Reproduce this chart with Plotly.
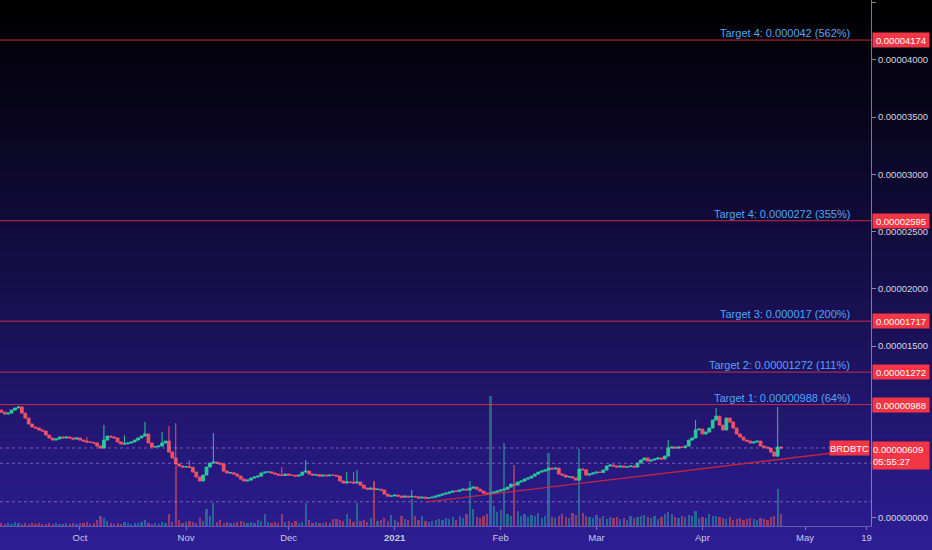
import numpy as np
import pandas as pd
import plotly.graph_objects as go

# ---------------- data (prices in satoshi units, 1e-8 BTC) ----------------
SAT = 1e-8
start_date = "2020-09-08"
first_open_sat = 940
close_sat = [
    922, 905, 914, 940, 958, 967, 914, 870, 818, 792,
    783, 766, 757, 722, 696, 678, 687, 705, 696, 705,
    696, 687, 696, 678, 669, 661, 658, 652, 626, 608,
    678, 713, 705, 696, 661, 643, 645, 652, 661, 678,
    696, 713, 731, 652, 617, 620, 626, 652, 669, 573,
    521, 468, 451, 442, 445, 440, 398, 355, 320, 372,
    442, 477, 486, 477, 468, 407, 390, 392, 381, 363,
    337, 320, 328, 346, 355, 363, 390, 398, 400, 390,
    381, 372, 368, 381, 372, 370, 363, 372, 398, 407,
    381, 372, 375, 363, 372, 365, 372, 370, 363, 320,
    302, 311, 309, 302, 311, 284, 258, 249, 258, 245,
    249, 241, 206, 188, 190, 197, 188, 179, 188, 180,
    186, 182, 171, 179, 171, 174, 179, 188, 197, 206,
    214, 223, 232, 230, 241, 249, 241, 258, 267, 249,
    232, 214, 206, 214, 223, 232, 241, 249, 267, 293,
    285, 311, 320, 337, 346, 363, 381, 398, 407, 416,
    433, 425, 433, 381, 372, 355, 358, 346, 328, 425,
    418, 372, 381, 390, 398, 395, 416, 451, 460, 451,
    442, 451, 442, 445, 451, 442, 477, 503, 521, 494,
    503, 512, 521, 512, 538, 608, 617, 608, 617, 614,
    626, 678, 696, 766, 774, 731, 748, 783, 853, 887,
    809, 766, 870, 836, 783, 731, 705, 678, 669, 652,
    661, 669, 626, 617, 608, 573, 538, 617, 609,
]
# visible wicks (day index -> price in sats)
wick_high_sat = {5: 975, 25: 705, 30: 809, 36: 720, 42: 836, 47: 748, 49: 800,
                 51: 827, 55: 503, 62: 739, 82: 442, 89: 503, 101: 398, 103: 398,
                 104: 416, 109: 311, 120: 241, 195: 678, 203: 853, 209: 958, 227: 967}
wick_low_sat = {227: 528}
volume = [
    3, 2, 3, 2, 4, 3, 2, 3, 2, 3,
    2, 3, 2, 2, 3, 2, 3, 2, 2, 3,
    2, 3, 2, 3, 3, 4, 2, 3, 6, 10,
    8, 5, 3, 2, 3, 2, 4, 3, 2, 3,
    3, 4, 6, 3, 2, 3, 2, 4, 3, 12,
    4, 60, 6, 3, 4, 5, 4, 3, 8, 5,
    17, 10, 23, 4, 6, 3, 4, 3, 3, 4,
    5, 4, 3, 4, 3, 6, 5, 12, 4, 3,
    4, 3, 12, 4, 5, 3, 5, 3, 4, 23,
    6, 3, 4, 3, 3, 4, 3, 7, 7, 6,
    5, 12, 7, 4, 23, 5, 6, 4, 8, 45,
    5, 6, 8, 5, 11, 6, 4, 10, 7, 6,
    27, 10, 6, 10, 5, 4, 5, 6, 7, 6,
    8, 7, 9, 6, 10, 8, 12, 45, 17, 9,
    8, 10, 12, 130, 20, 14, 16, 83, 12, 10,
    61, 15, 10, 12, 9, 11, 10, 13, 8, 10,
    73, 9, 8, 10, 12, 9, 8, 13, 11, 77,
    13, 10, 9, 8, 11, 8, 10, 7, 9, 8,
    9, 7, 8, 6, 10, 8, 9, 10, 11, 9,
    8, 10, 7, 9, 12, 14, 12, 9, 8, 10,
    9, 11, 10, 15, 8, 9, 8, 12, 10, 10,
    9, 8, 7, 9, 6, 7, 8, 6, 7, 8,
    7, 6, 8, 7, 6, 9, 10, 37, 12,
]
target_sat = [4174, 2595, 1717, 1272, 988]
target_texts = ["Target 4: 0.000042 (562%)", "Target 4: 0.0000272 (355%)",
                "Target 3: 0.000017 (200%)", "Target 2: 0.00001272 (111%)",
                "Target 1: 0.00000988 (64%)"]
dotted_sat = [609, 475, 139]
trend_dates = ["2021-01-10", "2021-05-09"]
trend_sat = [136, 565]
symbol = "BRDBTC"
last_price_sat = 609
countdown = "05:55:27"
price_ticks_sat = [0, 1500, 2000, 2500, 3000, 3500, 4000, 4500]
tick_dates = ["2020-10-01", "2020-11-01", "2020-12-01", "2021-01-01", "2021-02-01",
              "2021-03-01", "2021-04-01", "2021-05-01", "2021-05-19"]
tick_labels = ["Oct", "Nov", "Dec", "<b>2021</b>", "Feb", "Mar", "Apr", "May", "19"]
x_range = ["2020-09-07 14:38", "2021-05-20 07:00"]
y_range_sat = [-73, 4524]

# ---------------- derived ----------------
n = len(close_sat)
dates = pd.date_range(start_date, periods=n, freq="D")
open_sat = [first_open_sat] + close_sat[:-1]
high_sat = [wick_high_sat.get(i, max(o, c)) for i, (o, c) in enumerate(zip(open_sat, close_sat))]
low_sat = [wick_low_sat.get(i, min(o, c)) for i, (o, c) in enumerate(zip(open_sat, close_sat))]
o = np.array(open_sat) * SAT
h = np.array(high_sat) * SAT
l = np.array(low_sat) * SAT
c = np.array(close_sat) * SAT

UP = "#2ec79c"
DOWN = "#ef5068"
vol_colors = ["rgba(38,166,154,0.55)" if cc >= oo else "rgba(239,83,80,0.55)"
              for oo, cc in zip(open_sat, close_sat)]

FONT = "Liberation Sans, Arial, sans-serif"
W, H = 932, 550
ML, MR, MT, MB = 0, 61, 0, 24
PW, PH = W - ML - MR, H - MT - MB

fig = go.Figure()
fig.add_trace(go.Bar(x=dates, y=volume, marker_color=vol_colors, marker_line_width=0,
                     width=0.65 * 86400000, yaxis="y", hoverinfo="skip"))
fig.add_trace(go.Candlestick(x=dates, open=o, high=h, low=l, close=c, yaxis="y2",
                             increasing=dict(line=dict(color=UP, width=1), fillcolor=UP),
                             decreasing=dict(line=dict(color=DOWN, width=1), fillcolor=DOWN),
                             whiskerwidth=0, hoverinfo="skip"))

shapes = []
# background gradient (black at top -> indigo at bottom), overlapping bands
bands = 110
for i in range(bands):
    py0 = i * H / bands
    py1 = (i + 1) * H / bands
    t = ((py0 + py1) / 2) / H
    f = t ** 1.05
    col = f"rgb({int(46 * f)},{int(30 * f)},{int(150 * f)})"
    shapes.append(dict(type="rect", xref="paper", yref="paper", layer="below",
                       x0=-0.01, x1=W / PW + 0.01,
                       y0=(PH - py1 - 1.5) / PH, y1=(PH - py0 + 0.5) / PH,
                       fillcolor=col, line=dict(width=0)))
# dotted horizontal levels
for lv in dotted_sat:
    shapes.append(dict(type="line", xref="paper", yref="y2", x0=0, x1=1,
                       y0=lv * SAT, y1=lv * SAT,
                       line=dict(color="rgba(190,150,215,0.55)", width=1, dash="dot")))
# target lines
for lv in target_sat:
    shapes.append(dict(type="line", xref="paper", yref="y2", x0=0, x1=1,
                       y0=lv * SAT, y1=lv * SAT,
                       line=dict(color="rgba(242,54,69,0.8)", width=1)))
# trend line
shapes.append(dict(type="line", xref="x", yref="y2", x0=trend_dates[0], x1=trend_dates[1],
                   y0=trend_sat[0] * SAT, y1=trend_sat[1] * SAT,
                   line=dict(color="rgba(210,35,65,0.9)", width=1.3)))

annotations = []
for lv, txt in zip(target_sat, target_texts):
    annotations.append(dict(xref="paper", yref="y2", x=852 / PW, y=lv * SAT,
                            xanchor="right", yanchor="bottom", text=txt, showarrow=False,
                            font=dict(family=FONT, size=11, color="#52a6f5"), yshift=-1))
    annotations.append(dict(xref="paper", yref="y2", x=1, y=lv * SAT, xanchor="left",
                            yanchor="middle", xshift=1, text=f"{lv * SAT:.8f}", showarrow=False,
                            bgcolor="#f23645", width=56, height=14, borderpad=0,
                            font=dict(family=FONT, size=9.5, color="#ffffff")))
annotations.append(dict(xref="paper", yref="y2", x=1, y=last_price_sat * SAT, xanchor="right",
                        yanchor="middle", text=symbol, showarrow=False, bgcolor="#f23645",
                        width=39, height=14, borderpad=0, xshift=-1,
                        font=dict(family=FONT, size=9.5, color="#ffffff")))
annotations.append(dict(xref="paper", yref="y2", x=1, y=last_price_sat * SAT, xanchor="left",
                        yanchor="top", yshift=7, xshift=1, align="left",
                        text=f"{last_price_sat * SAT:.8f}<br>{countdown}", showarrow=False,
                        bgcolor="#f23645", width=56, height=27, borderpad=0,
                        font=dict(family=FONT, size=9.5, color="#ffffff")))

fig.update_layout(
    width=W, height=H, margin=dict(l=ML, r=MR, t=MT, b=MB),
    paper_bgcolor="rgb(46,30,150)", plot_bgcolor="rgba(0,0,0,0)",
    showlegend=False, hovermode=False, bargap=0, boxgap=0.2, boxgroupgap=0,
    shapes=shapes, annotations=annotations,
    xaxis=dict(type="date", range=x_range, tickvals=tick_dates, ticktext=tick_labels,
               showgrid=False, zeroline=False, showline=True,
               linecolor="rgba(140,130,200,0.6)", linewidth=1,
               ticks="outside", ticklen=3, tickcolor="rgba(160,150,210,0.7)",
               tickfont=dict(family=FONT, size=9.5, color="#c9c9e0"),
               rangeslider=dict(visible=False), fixedrange=True),
    yaxis=dict(range=[0, PH], visible=False, fixedrange=True),
    yaxis2=dict(overlaying="y", side="right", anchor="x",
                range=[y_range_sat[0] * SAT, y_range_sat[1] * SAT],
                tickvals=[v * SAT for v in price_ticks_sat], tickformat=".8f",
                showgrid=False, zeroline=False, showline=True,
                linecolor="rgba(150,150,170,0.8)", linewidth=1,
                ticks="outside", ticklen=4, tickcolor="rgba(170,170,190,0.8)",
                tickfont=dict(family=FONT, size=9.5, color="#d6d6e4"), fixedrange=True),
)

fig.write_html("out.html", config={"displayModeBar": False},
               post_script="document.body.style.margin='0';document.body.style.background='#000';")
